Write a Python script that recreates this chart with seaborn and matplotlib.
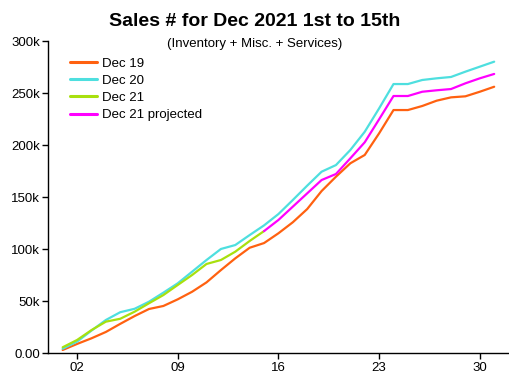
import matplotlib
matplotlib.use("Agg")
import matplotlib.pyplot as plt
import seaborn as sns
import pandas as pd

days = list(range(1, 32))
dec19 = [3.2, 9.0, 14.4, 20.5, 28.3, 35.8, 42.6, 45.5, 51.9, 59.2, 68.2, 80.0, 91.3, 101.5, 106.0,
         115.4, 126.0, 138.7, 156.0, 169.8, 182.7, 190.7, 211.5, 233.9, 233.9, 237.8, 242.9, 246.1,
         247.1, 251.5, 256.3]
dec20 = [4.4, 11.2, 21.8, 32.0, 39.5, 42.8, 49.6, 58.3, 67.3, 78.5, 89.7, 100.3, 104.1, 113.7, 123.0,
         133.9, 147.4, 161.2, 174.6, 181.0, 195.5, 213.0, 235.5, 258.9, 258.9, 262.8, 264.4, 265.7,
         270.8, 275.6, 280.4]
dec21_days = list(range(1, 16))
dec21 = [5.8, 12.8, 22.3, 30.4, 33.2, 40.0, 48.1, 56.0, 65.7, 75.3, 85.9, 89.7, 97.7, 108.0, 117.5]
proj_days = list(range(15, 32))
dec21_proj = [117.5, 128.2, 141.0, 153.8, 166.6, 172.4, 187.5, 202.9, 225.0, 247.4, 247.4, 251.5,
              252.9, 254.1, 259.6, 264.4, 268.6]

series_names = ["Dec 19", "Dec 20", "Dec 21", "Dec 21 projected"]
colors = ["#FF6110", "#4EDFDF", "#A8E00E", "#FF00FF"]
x_ticks = [2, 9, 16, 23, 30]
x_ticklabels = ["02", "09", "16", "23", "30"]
y_ticks = [0, 50000, 100000, 150000, 200000, 250000, 300000]
y_ticklabels = ["0.00", "50k", "100k", "150k", "200k", "250k", "300k"]
title = "Sales # for Dec 2021 1st to 15th"
subtitle = "(Inventory + Misc. + Services)"

frames = []
for name, xs, ys in [(series_names[0], days, dec19), (series_names[1], days, dec20),
                     (series_names[2], dec21_days, dec21), (series_names[3], proj_days, dec21_proj)]:
    frames.append(pd.DataFrame({"day": xs, "sales": [v * 1000 for v in ys], "series": name}))
df = pd.concat(frames, ignore_index=True)

sns.set_theme(style="white")
plt.rcParams["font.family"] = ["Liberation Sans", "DejaVu Sans"]
plt.rcParams["text.color"] = "black"
plt.rcParams["axes.labelcolor"] = "black"

fig = plt.figure(figsize=(5.10, 3.82), dpi=100)
ax = fig.add_axes([48.3 / 510, 1 - 353.3 / 382, 1 - 48.3 / 510, (353.3 - 41.3) / 382])

sns.lineplot(data=df, x="day", y="sales", hue="series", hue_order=series_names,
             palette=colors, linewidth=1.6, ax=ax, legend=True)

ax.set_xlim(0, 32.1)
ax.set_ylim(0, 300000)
ax.set_xticks(x_ticks)
ax.set_xticklabels(x_ticklabels)
ax.set_yticks(y_ticks)
ax.set_yticklabels(y_ticklabels)
ax.set_xlabel("")
ax.set_ylabel("")
for s in ["top", "right"]:
    ax.spines[s].set_visible(False)
for s in ["left", "bottom"]:
    ax.spines[s].set_color("black")
    ax.spines[s].set_linewidth(1.0)
ax.tick_params(axis="both", which="major", direction="out", length=4, width=1,
               color="black", labelsize=9.5, labelcolor="black", pad=2,
               bottom=True, left=True)

leg = ax.legend(loc="upper left", bbox_to_anchor=(65 / 510, 1 - 52 / 382),
                bbox_transform=fig.transFigure, frameon=False, fontsize=9.5,
                handlelength=2.0, handletextpad=0.4, labelspacing=0.38, borderaxespad=0)
for line in leg.get_lines():
    line.set_linewidth(2.2)
for t in leg.get_texts():
    t.set_color("black")

fig.text(0.5, 1 - 22 / 382, title, ha="center", va="center", fontsize=14,
         fontweight="bold", color="black")
fig.text(0.5, 1 - 44 / 382, subtitle, ha="center", va="center", fontsize=9.5, color="black")

fig.savefig("out.png", dpi=100, facecolor="white")
